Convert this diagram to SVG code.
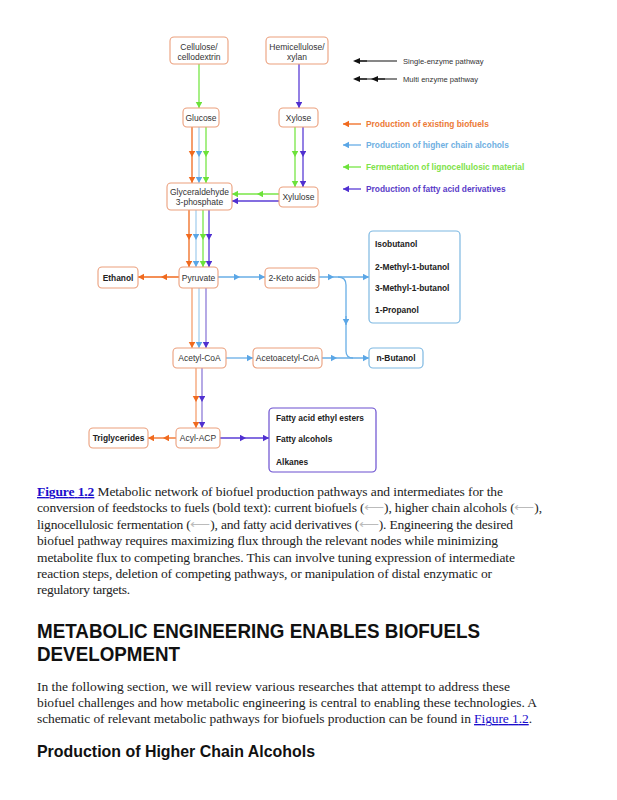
<svg xmlns="http://www.w3.org/2000/svg" width="617" height="800" viewBox="0 0 617 800">
<style>
.box{fill:#fff;stroke:#EB9F7C;stroke-width:1.1}
.bbox{fill:#fff;stroke:#7DB8E2;stroke-width:1.2}
.pbox{fill:#fff;stroke:#6A4FD0;stroke-width:1.2}
.t{font-family:"Liberation Sans",Arial,sans-serif;font-size:8.5px;fill:#333;text-anchor:middle}
.tb{font-family:"Liberation Sans",Arial,sans-serif;font-size:8.4px;font-weight:bold;fill:#222}
.lg{font-family:"Liberation Sans",Arial,sans-serif;font-size:7.6px;fill:#333}
.lc{font-family:"Liberation Sans",Arial,sans-serif;font-size:8.4px;font-weight:bold}
.o{stroke:#F06A1E;fill:none;stroke-width:1.3}
.ol{stroke:#F4A070;fill:none;stroke-width:1.3}
.b{stroke:#68AEE6;fill:none;stroke-width:1.3}
.bl{stroke:#A6CFEF;fill:none;stroke-width:1.3}
.g{stroke:#78E646;fill:none;stroke-width:1.3}
.p{stroke:#5A3CD6;fill:none;stroke-width:1.3}
.pl{stroke:#8E7CD8;fill:none;stroke-width:1.3}
.k{stroke:#111;fill:none;stroke-width:1.2}
.cap{font-family:"Liberation Serif","Times New Roman",serif;font-size:13.5px;fill:#222}
.lnk{fill:#1a0dcc;text-decoration:underline;font-weight:bold}
.ar{fill:#bbb}
.h1{font-family:"Liberation Sans",Arial,sans-serif;font-size:19.5px;font-weight:bold;fill:#111}
.h2{font-family:"Liberation Sans",Arial,sans-serif;font-size:16.5px;font-weight:bold;fill:#111}
</style>
<defs>
<marker id="mo" markerUnits="userSpaceOnUse" markerWidth="7" markerHeight="7" refX="6" refY="3.25" orient="auto"><path d="M0,0 L6,3.25 L0,6.5 z" fill="#F06A1E"/></marker>
<marker id="mb" markerUnits="userSpaceOnUse" markerWidth="7" markerHeight="7" refX="6" refY="3.25" orient="auto"><path d="M0,0 L6,3.25 L0,6.5 z" fill="#5AA6E6"/></marker>
<marker id="mg" markerUnits="userSpaceOnUse" markerWidth="7" markerHeight="7" refX="6" refY="3.25" orient="auto"><path d="M0,0 L6,3.25 L0,6.5 z" fill="#6CE23A"/></marker>
<marker id="mp" markerUnits="userSpaceOnUse" markerWidth="7" markerHeight="7" refX="6" refY="3.25" orient="auto"><path d="M0,0 L6,3.25 L0,6.5 z" fill="#5030D0"/></marker>
<marker id="mk" markerUnits="userSpaceOnUse" markerWidth="8" markerHeight="6" refX="0" refY="3" orient="auto"><path d="M0,0 L7,3 L0,6 z" fill="#111"/></marker>
</defs>

<g id="connectors">
  <polyline class="g" points="199,64 199,108" marker-end="url(#mg)"/>
  <polyline class="p" points="299,64 299,108" marker-end="url(#mp)"/>
  <polyline class="o" points="192,127 192,157 192,183" marker-mid="url(#mo)" marker-end="url(#mo)"/>
  <polyline class="bl" points="199,127 199,157 199,183" marker-mid="url(#mb)" marker-end="url(#mb)"/>
  <polyline class="g" points="206,127 206,157 206,183" marker-mid="url(#mg)" marker-end="url(#mg)"/>
  <polyline class="g" points="295,127 295,157 295,187" marker-mid="url(#mg)" marker-end="url(#mg)"/>
  <polyline class="p" points="303,127 303,157 303,187" marker-mid="url(#mp)" marker-end="url(#mp)"/>
  <polyline class="g" points="279,194 257,194 232,194" marker-mid="url(#mg)" marker-end="url(#mg)"/>
  <polyline class="p" points="279,201 232,201" marker-end="url(#mp)"/>
  <polyline class="o" points="189,210 189,240 189,267" marker-mid="url(#mo)" marker-end="url(#mo)"/>
  <polyline class="bl" points="196,210 196,240 196,267" marker-mid="url(#mb)" marker-end="url(#mb)"/>
  <polyline class="g" points="203,210 203,240 203,267" marker-mid="url(#mg)" marker-end="url(#mg)"/>
  <polyline class="p" points="209,210 209,240 209,267" marker-mid="url(#mp)" marker-end="url(#mp)"/>
  <polyline class="o" points="179,277 161,277 138,277" marker-mid="url(#mo)" marker-end="url(#mo)"/>
  <polyline class="b" points="218,277 240,277 265,277" marker-mid="url(#mb)" marker-end="url(#mb)"/>
  <polyline class="b" points="319,277 334,277 369,277" marker-mid="url(#mb)" marker-end="url(#mb)"/>
  <path class="b" d="M338,277 Q346,277 346,285 L346,351 Q346,358 353,358"/>
  <line class="b" x1="346" y1="316" x2="346" y2="325" marker-end="url(#mb)"/>
  <polyline class="ol" points="192,288 192,348" marker-end="url(#mo)"/>
  <polyline class="bl" points="199,288 199,348" marker-end="url(#mb)"/>
  <polyline class="pl" points="206,288 206,348" marker-end="url(#mp)"/>
  <polyline class="b" points="226,358 253,358" marker-end="url(#mb)"/>
  <polyline class="b" points="322,358 337,358 369,358" marker-mid="url(#mb)" marker-end="url(#mb)"/>
  <polyline class="ol" points="196,368 196,402 196,428" marker-mid="url(#mo)" marker-end="url(#mo)"/>
  <polyline class="pl" points="202,368 202,402 202,428" marker-mid="url(#mp)" marker-end="url(#mp)"/>
  <polyline class="o" points="176,438 163,438 148,438" marker-mid="url(#mo)" marker-end="url(#mo)"/>
  <polyline class="p" points="220,438 246,438 269,438" marker-mid="url(#mp)" marker-end="url(#mp)"/>
</g>

<g id="legend">
  <line class="k" x1="360" y1="61" x2="397" y2="61"/>
  <line class="k" x1="367" y1="61" x2="360" y2="61" marker-end="url(#mk)"/>
  <text class="lg" x="403" y="64">Single-enzyme pathway</text>
  <line class="k" x1="360" y1="79" x2="397" y2="79"/>
  <line class="k" x1="367" y1="79" x2="360" y2="79" marker-end="url(#mk)"/>
  <line class="k" x1="385" y1="79" x2="378" y2="79" marker-end="url(#mk)"/>
  <text class="lg" x="403" y="82">Multi enzyme pathway</text>
  <polyline class="o" points="361,124 343,124" marker-end="url(#mo)"/>
  <text class="lc" x="366" y="127" fill="#EC7A36">Production of existing biofuels</text>
  <polyline class="b" points="361,145 343,145" marker-end="url(#mb)"/>
  <text class="lc" x="366" y="148" fill="#6FB0E2">Production of higher chain alcohols</text>
  <polyline class="g" points="361,167 343,167" marker-end="url(#mg)"/>
  <text class="lc" x="366" y="170" fill="#7EE24A">Fermentation of lignocellulosic material</text>
  <polyline class="p" points="361,189 343,189" marker-end="url(#mp)"/>
  <text class="lc" x="366" y="192" fill="#5A3CC8">Production of fatty acid derivatives</text>
</g>

<g id="cellulose"><rect class="box" x="170" y="37" width="58" height="27" rx="4"/><text class="t" x="199" y="49.5">Cellulose/</text><text class="t" x="199" y="59.5">cellodextrin</text></g>
<g id="hemicellulose"><rect class="box" x="266" y="37" width="62" height="27" rx="4"/><text class="t" x="297" y="49.5">Hemicellulose/</text><text class="t" x="297" y="59.5">xylan</text></g>
<g id="glucose"><rect class="box" x="183" y="108" width="36" height="19" rx="4"/><text class="t" x="201" y="120.5">Glucose</text></g>
<g id="xylose"><rect class="box" x="279" y="108" width="39" height="19" rx="4"/><text class="t" x="298.5" y="120.5">Xylose</text></g>
<g id="g3p"><rect class="box" x="167" y="183" width="65" height="27" rx="4"/><text class="t" x="199.5" y="194.5">Glyceraldehyde</text><text class="t" x="199.5" y="204.5">3-phosphate</text></g>
<g id="xylulose"><rect class="box" x="279" y="187" width="39" height="20" rx="4"/><text class="t" x="298.5" y="200">Xylulose</text></g>
<g id="ethanol"><rect class="box" x="98" y="267" width="40" height="21" rx="4"/><text class="tb" x="118" y="280.5" text-anchor="middle">Ethanol</text></g>
<g id="pyruvate"><rect class="box" x="179" y="267" width="39" height="21" rx="4"/><text class="t" x="198.5" y="280.5">Pyruvate</text></g>
<g id="ketoacids"><rect class="box" x="265" y="268" width="54" height="20" rx="4"/><text class="t" x="292" y="280.5">2-Keto acids</text></g>
<g id="alcohols"><rect class="bbox" x="369" y="231" width="91" height="92" rx="4"/>
  <text class="tb" x="375" y="247.3">Isobutanol</text>
  <text class="tb" x="375" y="270.3">2-Methyl-1-butanol</text>
  <text class="tb" x="375" y="291.3">3-Methyl-1-butanol</text>
  <text class="tb" x="375" y="313">1-Propanol</text></g>
<g id="acetylcoa"><rect class="box" x="173" y="348" width="53" height="20" rx="4"/><text class="t" x="199.5" y="361">Acetyl-CoA</text></g>
<g id="acetoacetylcoa"><rect class="box" x="253" y="348" width="69" height="20" rx="4"/><text class="t" x="287.5" y="361">Acetoacetyl-CoA</text></g>
<g id="nbutanol"><rect class="bbox" x="369" y="348" width="54" height="20" rx="4"/><text class="tb" x="396" y="361" text-anchor="middle">n-Butanol</text></g>
<g id="acylacp"><rect class="box" x="176" y="428" width="44" height="20" rx="4"/><text class="t" x="198" y="441">Acyl-ACP</text></g>
<g id="triglycerides"><rect class="box" x="89" y="428" width="59" height="20" rx="4"/><text class="tb" x="118.5" y="441" text-anchor="middle">Triglycerides</text></g>
<g id="fatty"><rect class="pbox" x="269" y="408" width="107" height="64" rx="4"/>
  <text class="tb" x="276" y="421.3">Fatty acid ethyl esters</text>
  <text class="tb" x="276" y="442.3">Fatty alcohols</text>
  <text class="tb" x="276" y="464.7">Alkanes</text></g>

<g id="caption">
  <text class="cap" x="37" y="496" textLength="466" lengthAdjust="spacing"><tspan class="lnk">Figure 1.2</tspan> Metabolic network of biofuel production pathways and intermediates for the</text>
  <text class="cap" x="37" y="512.4" textLength="505" lengthAdjust="spacing">conversion of feedstocks to fuels (bold text): current biofuels (<tspan class="ar">⟵</tspan>), higher chain alcohols (<tspan class="ar">⟵</tspan>),</text>
  <text class="cap" x="37" y="528.8" textLength="476" lengthAdjust="spacing">lignocellulosic fermentation (<tspan class="ar">⟵</tspan>), and fatty acid derivatives (<tspan class="ar">⟵</tspan>). Engineering the desired</text>
  <text class="cap" x="37" y="545.2" textLength="461" lengthAdjust="spacing">biofuel pathway requires maximizing flux through the relevant nodes while minimizing</text>
  <text class="cap" x="37" y="561.6" textLength="478" lengthAdjust="spacing">metabolite flux to competing branches. This can involve tuning expression of intermediate</text>
  <text class="cap" x="37" y="578" textLength="455" lengthAdjust="spacing">reaction steps, deletion of competing pathways, or manipulation of distal enzymatic or</text>
  <text class="cap" x="37" y="594.4" textLength="93" lengthAdjust="spacing">regulatory targets.</text>
</g>

<g id="section">
  <text class="h1" x="37" y="638" textLength="443" lengthAdjust="spacingAndGlyphs">METABOLIC ENGINEERING ENABLES BIOFUELS</text>
  <text class="h1" x="37" y="661" textLength="143" lengthAdjust="spacingAndGlyphs">DEVELOPMENT</text>
  <text class="cap" x="37" y="691" textLength="473" lengthAdjust="spacing">In the following section, we will review various researches that attempt to address these</text>
  <text class="cap" x="37" y="707" textLength="500" lengthAdjust="spacing">biofuel challenges and how metabolic engineering is central to enabling these technologies. A</text>
  <text class="cap" x="37" y="723" textLength="495" lengthAdjust="spacing">schematic of relevant metabolic pathways for biofuels production can be found in <tspan fill="#1a0dcc" text-decoration="underline">Figure 1.2</tspan>.</text>
  <text class="h2" x="37" y="757" textLength="278" lengthAdjust="spacingAndGlyphs">Production of Higher Chain Alcohols</text>
</g>
</svg>
